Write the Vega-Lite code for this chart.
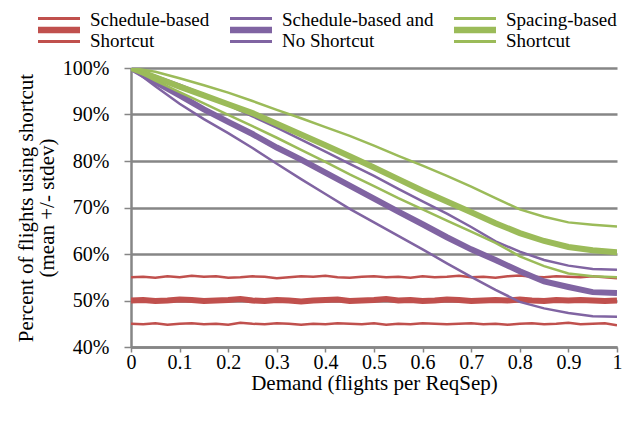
{
  "$schema": "https://vega.github.io/schema/vega-lite/v6.json",
  "width": 486,
  "height": 279,
  "autosize": {"type": "none"},
  "padding": {"left": 131, "top": 68, "right": 14, "bottom": 75},
  "background": "white",
  "config": {
    "view": {"stroke": null},
    "axisX": {"labelFont": "Liberation Serif", "titleFont": "Liberation Serif"},
    "axisY": {"labelFont": "Liberation Serif", "titleFont": "Liberation Serif"},
    "axis": {"labelColor": "#000000", "titleColor": "#000000", "titleFontWeight": "normal", "labelFontSize": 20, "titleFontSize": 21},
    "legend": {"labelFont": "Liberation Serif", "labelColor": "#000000", "labelFontSize": 19}
  },
  "datasets": {
    "curves": [
      {"demand": 0, "pct": 100.0, "series": "Schedule-based and No Shortcut", "stat": "mean"},
      {"demand": 0.05, "pct": 97.0, "series": "Schedule-based and No Shortcut", "stat": "mean"},
      {"demand": 0.1, "pct": 94.1, "series": "Schedule-based and No Shortcut", "stat": "mean"},
      {"demand": 0.15, "pct": 91.1, "series": "Schedule-based and No Shortcut", "stat": "mean"},
      {"demand": 0.2, "pct": 88.4, "series": "Schedule-based and No Shortcut", "stat": "mean"},
      {"demand": 0.25, "pct": 85.8, "series": "Schedule-based and No Shortcut", "stat": "mean"},
      {"demand": 0.3, "pct": 82.9, "series": "Schedule-based and No Shortcut", "stat": "mean"},
      {"demand": 0.35, "pct": 80.3, "series": "Schedule-based and No Shortcut", "stat": "mean"},
      {"demand": 0.4, "pct": 77.5, "series": "Schedule-based and No Shortcut", "stat": "mean"},
      {"demand": 0.45, "pct": 74.7, "series": "Schedule-based and No Shortcut", "stat": "mean"},
      {"demand": 0.5, "pct": 71.9, "series": "Schedule-based and No Shortcut", "stat": "mean"},
      {"demand": 0.55, "pct": 69.1, "series": "Schedule-based and No Shortcut", "stat": "mean"},
      {"demand": 0.6, "pct": 66.4, "series": "Schedule-based and No Shortcut", "stat": "mean"},
      {"demand": 0.65, "pct": 63.6, "series": "Schedule-based and No Shortcut", "stat": "mean"},
      {"demand": 0.7, "pct": 61.0, "series": "Schedule-based and No Shortcut", "stat": "mean"},
      {"demand": 0.75, "pct": 58.7, "series": "Schedule-based and No Shortcut", "stat": "mean"},
      {"demand": 0.8, "pct": 56.3, "series": "Schedule-based and No Shortcut", "stat": "mean"},
      {"demand": 0.85, "pct": 54.1, "series": "Schedule-based and No Shortcut", "stat": "mean"},
      {"demand": 0.9, "pct": 52.9, "series": "Schedule-based and No Shortcut", "stat": "mean"},
      {"demand": 0.95, "pct": 51.8, "series": "Schedule-based and No Shortcut", "stat": "mean"},
      {"demand": 1.0, "pct": 51.6, "series": "Schedule-based and No Shortcut", "stat": "mean"},
      {"demand": 0, "pct": 100.0, "series": "Schedule-based and No Shortcut", "stat": "upper"},
      {"demand": 0.05, "pct": 98.3, "series": "Schedule-based and No Shortcut", "stat": "upper"},
      {"demand": 0.1, "pct": 96.4, "series": "Schedule-based and No Shortcut", "stat": "upper"},
      {"demand": 0.15, "pct": 94.3, "series": "Schedule-based and No Shortcut", "stat": "upper"},
      {"demand": 0.2, "pct": 92.0, "series": "Schedule-based and No Shortcut", "stat": "upper"},
      {"demand": 0.25, "pct": 89.6, "series": "Schedule-based and No Shortcut", "stat": "upper"},
      {"demand": 0.3, "pct": 87.2, "series": "Schedule-based and No Shortcut", "stat": "upper"},
      {"demand": 0.35, "pct": 84.6, "series": "Schedule-based and No Shortcut", "stat": "upper"},
      {"demand": 0.4, "pct": 82.0, "series": "Schedule-based and No Shortcut", "stat": "upper"},
      {"demand": 0.45, "pct": 79.4, "series": "Schedule-based and No Shortcut", "stat": "upper"},
      {"demand": 0.5, "pct": 76.8, "series": "Schedule-based and No Shortcut", "stat": "upper"},
      {"demand": 0.55, "pct": 74.0, "series": "Schedule-based and No Shortcut", "stat": "upper"},
      {"demand": 0.6, "pct": 71.3, "series": "Schedule-based and No Shortcut", "stat": "upper"},
      {"demand": 0.65, "pct": 68.7, "series": "Schedule-based and No Shortcut", "stat": "upper"},
      {"demand": 0.7, "pct": 65.8, "series": "Schedule-based and No Shortcut", "stat": "upper"},
      {"demand": 0.75, "pct": 62.7, "series": "Schedule-based and No Shortcut", "stat": "upper"},
      {"demand": 0.8, "pct": 60.5, "series": "Schedule-based and No Shortcut", "stat": "upper"},
      {"demand": 0.85, "pct": 58.7, "series": "Schedule-based and No Shortcut", "stat": "upper"},
      {"demand": 0.9, "pct": 57.5, "series": "Schedule-based and No Shortcut", "stat": "upper"},
      {"demand": 0.95, "pct": 56.8, "series": "Schedule-based and No Shortcut", "stat": "upper"},
      {"demand": 1.0, "pct": 56.6, "series": "Schedule-based and No Shortcut", "stat": "upper"},
      {"demand": 0, "pct": 100.0, "series": "Schedule-based and No Shortcut", "stat": "lower"},
      {"demand": 0.05, "pct": 96.1, "series": "Schedule-based and No Shortcut", "stat": "lower"},
      {"demand": 0.1, "pct": 92.3, "series": "Schedule-based and No Shortcut", "stat": "lower"},
      {"demand": 0.15, "pct": 89.0, "series": "Schedule-based and No Shortcut", "stat": "lower"},
      {"demand": 0.2, "pct": 86.0, "series": "Schedule-based and No Shortcut", "stat": "lower"},
      {"demand": 0.25, "pct": 82.8, "series": "Schedule-based and No Shortcut", "stat": "lower"},
      {"demand": 0.3, "pct": 79.4, "series": "Schedule-based and No Shortcut", "stat": "lower"},
      {"demand": 0.35, "pct": 76.1, "series": "Schedule-based and No Shortcut", "stat": "lower"},
      {"demand": 0.4, "pct": 72.9, "series": "Schedule-based and No Shortcut", "stat": "lower"},
      {"demand": 0.45, "pct": 69.7, "series": "Schedule-based and No Shortcut", "stat": "lower"},
      {"demand": 0.5, "pct": 66.8, "series": "Schedule-based and No Shortcut", "stat": "lower"},
      {"demand": 0.55, "pct": 63.9, "series": "Schedule-based and No Shortcut", "stat": "lower"},
      {"demand": 0.6, "pct": 61.0, "series": "Schedule-based and No Shortcut", "stat": "lower"},
      {"demand": 0.65, "pct": 58.0, "series": "Schedule-based and No Shortcut", "stat": "lower"},
      {"demand": 0.7, "pct": 55.1, "series": "Schedule-based and No Shortcut", "stat": "lower"},
      {"demand": 0.75, "pct": 52.3, "series": "Schedule-based and No Shortcut", "stat": "lower"},
      {"demand": 0.8, "pct": 49.7, "series": "Schedule-based and No Shortcut", "stat": "lower"},
      {"demand": 0.85, "pct": 48.3, "series": "Schedule-based and No Shortcut", "stat": "lower"},
      {"demand": 0.9, "pct": 47.3, "series": "Schedule-based and No Shortcut", "stat": "lower"},
      {"demand": 0.95, "pct": 46.6, "series": "Schedule-based and No Shortcut", "stat": "lower"},
      {"demand": 1.0, "pct": 46.5, "series": "Schedule-based and No Shortcut", "stat": "lower"},
      {"demand": 0, "pct": 100.0, "series": "Spacing-based Shortcut", "stat": "mean"},
      {"demand": 0.05, "pct": 98.0, "series": "Spacing-based Shortcut", "stat": "mean"},
      {"demand": 0.1, "pct": 96.0, "series": "Spacing-based Shortcut", "stat": "mean"},
      {"demand": 0.15, "pct": 94.1, "series": "Spacing-based Shortcut", "stat": "mean"},
      {"demand": 0.2, "pct": 92.2, "series": "Spacing-based Shortcut", "stat": "mean"},
      {"demand": 0.25, "pct": 90.3, "series": "Spacing-based Shortcut", "stat": "mean"},
      {"demand": 0.3, "pct": 88.0, "series": "Spacing-based Shortcut", "stat": "mean"},
      {"demand": 0.35, "pct": 85.7, "series": "Spacing-based Shortcut", "stat": "mean"},
      {"demand": 0.4, "pct": 83.4, "series": "Spacing-based Shortcut", "stat": "mean"},
      {"demand": 0.45, "pct": 81.0, "series": "Spacing-based Shortcut", "stat": "mean"},
      {"demand": 0.5, "pct": 78.6, "series": "Spacing-based Shortcut", "stat": "mean"},
      {"demand": 0.55, "pct": 76.1, "series": "Spacing-based Shortcut", "stat": "mean"},
      {"demand": 0.6, "pct": 73.6, "series": "Spacing-based Shortcut", "stat": "mean"},
      {"demand": 0.65, "pct": 71.3, "series": "Spacing-based Shortcut", "stat": "mean"},
      {"demand": 0.7, "pct": 69.0, "series": "Spacing-based Shortcut", "stat": "mean"},
      {"demand": 0.75, "pct": 66.6, "series": "Spacing-based Shortcut", "stat": "mean"},
      {"demand": 0.8, "pct": 64.5, "series": "Spacing-based Shortcut", "stat": "mean"},
      {"demand": 0.85, "pct": 62.8, "series": "Spacing-based Shortcut", "stat": "mean"},
      {"demand": 0.9, "pct": 61.5, "series": "Spacing-based Shortcut", "stat": "mean"},
      {"demand": 0.95, "pct": 60.8, "series": "Spacing-based Shortcut", "stat": "mean"},
      {"demand": 1.0, "pct": 60.4, "series": "Spacing-based Shortcut", "stat": "mean"},
      {"demand": 0, "pct": 100.0, "series": "Spacing-based Shortcut", "stat": "upper"},
      {"demand": 0.05, "pct": 99.2, "series": "Spacing-based Shortcut", "stat": "upper"},
      {"demand": 0.1, "pct": 97.8, "series": "Spacing-based Shortcut", "stat": "upper"},
      {"demand": 0.15, "pct": 96.3, "series": "Spacing-based Shortcut", "stat": "upper"},
      {"demand": 0.2, "pct": 94.7, "series": "Spacing-based Shortcut", "stat": "upper"},
      {"demand": 0.25, "pct": 92.9, "series": "Spacing-based Shortcut", "stat": "upper"},
      {"demand": 0.3, "pct": 91.0, "series": "Spacing-based Shortcut", "stat": "upper"},
      {"demand": 0.35, "pct": 89.2, "series": "Spacing-based Shortcut", "stat": "upper"},
      {"demand": 0.4, "pct": 87.3, "series": "Spacing-based Shortcut", "stat": "upper"},
      {"demand": 0.45, "pct": 85.4, "series": "Spacing-based Shortcut", "stat": "upper"},
      {"demand": 0.5, "pct": 83.3, "series": "Spacing-based Shortcut", "stat": "upper"},
      {"demand": 0.55, "pct": 81.1, "series": "Spacing-based Shortcut", "stat": "upper"},
      {"demand": 0.6, "pct": 79.0, "series": "Spacing-based Shortcut", "stat": "upper"},
      {"demand": 0.65, "pct": 76.8, "series": "Spacing-based Shortcut", "stat": "upper"},
      {"demand": 0.7, "pct": 74.5, "series": "Spacing-based Shortcut", "stat": "upper"},
      {"demand": 0.75, "pct": 72.0, "series": "Spacing-based Shortcut", "stat": "upper"},
      {"demand": 0.8, "pct": 69.6, "series": "Spacing-based Shortcut", "stat": "upper"},
      {"demand": 0.85, "pct": 68.0, "series": "Spacing-based Shortcut", "stat": "upper"},
      {"demand": 0.9, "pct": 66.8, "series": "Spacing-based Shortcut", "stat": "upper"},
      {"demand": 0.95, "pct": 66.3, "series": "Spacing-based Shortcut", "stat": "upper"},
      {"demand": 1.0, "pct": 65.9, "series": "Spacing-based Shortcut", "stat": "upper"},
      {"demand": 0, "pct": 100.0, "series": "Spacing-based Shortcut", "stat": "lower"},
      {"demand": 0.05, "pct": 97.3, "series": "Spacing-based Shortcut", "stat": "lower"},
      {"demand": 0.1, "pct": 94.8, "series": "Spacing-based Shortcut", "stat": "lower"},
      {"demand": 0.15, "pct": 92.4, "series": "Spacing-based Shortcut", "stat": "lower"},
      {"demand": 0.2, "pct": 89.9, "series": "Spacing-based Shortcut", "stat": "lower"},
      {"demand": 0.25, "pct": 87.5, "series": "Spacing-based Shortcut", "stat": "lower"},
      {"demand": 0.3, "pct": 85.0, "series": "Spacing-based Shortcut", "stat": "lower"},
      {"demand": 0.35, "pct": 82.4, "series": "Spacing-based Shortcut", "stat": "lower"},
      {"demand": 0.4, "pct": 79.8, "series": "Spacing-based Shortcut", "stat": "lower"},
      {"demand": 0.45, "pct": 77.1, "series": "Spacing-based Shortcut", "stat": "lower"},
      {"demand": 0.5, "pct": 74.6, "series": "Spacing-based Shortcut", "stat": "lower"},
      {"demand": 0.55, "pct": 72.0, "series": "Spacing-based Shortcut", "stat": "lower"},
      {"demand": 0.6, "pct": 69.6, "series": "Spacing-based Shortcut", "stat": "lower"},
      {"demand": 0.65, "pct": 67.2, "series": "Spacing-based Shortcut", "stat": "lower"},
      {"demand": 0.7, "pct": 64.8, "series": "Spacing-based Shortcut", "stat": "lower"},
      {"demand": 0.75, "pct": 62.4, "series": "Spacing-based Shortcut", "stat": "lower"},
      {"demand": 0.8, "pct": 59.5, "series": "Spacing-based Shortcut", "stat": "lower"},
      {"demand": 0.85, "pct": 57.4, "series": "Spacing-based Shortcut", "stat": "lower"},
      {"demand": 0.9, "pct": 55.8, "series": "Spacing-based Shortcut", "stat": "lower"},
      {"demand": 0.95, "pct": 55.2, "series": "Spacing-based Shortcut", "stat": "lower"},
      {"demand": 1.0, "pct": 55.0, "series": "Spacing-based Shortcut", "stat": "lower"}
    ],
    "flat": [
      {"demand": 0, "upper": 55.0, "mean": 50.0, "lower": 45.0},
      {"demand": 0.025, "upper": 55.1, "mean": 50.1, "lower": 44.9},
      {"demand": 0.05, "upper": 54.9, "mean": 49.9, "lower": 45.1},
      {"demand": 0.075, "upper": 55.2, "mean": 50.0, "lower": 44.8},
      {"demand": 0.1, "upper": 55.0, "mean": 50.2, "lower": 45.0},
      {"demand": 0.125, "upper": 55.3, "mean": 50.1, "lower": 45.1},
      {"demand": 0.15, "upper": 55.1, "mean": 49.9, "lower": 44.9},
      {"demand": 0.175, "upper": 55.2, "mean": 50.0, "lower": 45.0},
      {"demand": 0.2, "upper": 54.9, "mean": 50.1, "lower": 44.8},
      {"demand": 0.225, "upper": 55.0, "mean": 50.3, "lower": 45.2},
      {"demand": 0.25, "upper": 55.2, "mean": 50.0, "lower": 45.0},
      {"demand": 0.275, "upper": 55.1, "mean": 49.9, "lower": 44.9},
      {"demand": 0.3, "upper": 54.8, "mean": 50.1, "lower": 45.1},
      {"demand": 0.325, "upper": 55.0, "mean": 50.0, "lower": 45.0},
      {"demand": 0.35, "upper": 55.2, "mean": 49.8, "lower": 44.8},
      {"demand": 0.375, "upper": 55.1, "mean": 50.0, "lower": 45.0},
      {"demand": 0.4, "upper": 55.3, "mean": 50.1, "lower": 44.9},
      {"demand": 0.425, "upper": 55.0, "mean": 50.2, "lower": 45.1},
      {"demand": 0.45, "upper": 54.9, "mean": 49.9, "lower": 45.0},
      {"demand": 0.475, "upper": 55.1, "mean": 50.0, "lower": 44.9},
      {"demand": 0.5, "upper": 55.2, "mean": 50.1, "lower": 45.1},
      {"demand": 0.525, "upper": 55.0, "mean": 50.3, "lower": 44.8},
      {"demand": 0.55, "upper": 55.1, "mean": 50.0, "lower": 45.0},
      {"demand": 0.575, "upper": 54.9, "mean": 50.1, "lower": 44.9},
      {"demand": 0.6, "upper": 55.2, "mean": 49.9, "lower": 45.1},
      {"demand": 0.625, "upper": 55.0, "mean": 50.0, "lower": 45.0},
      {"demand": 0.65, "upper": 55.1, "mean": 50.2, "lower": 44.9},
      {"demand": 0.675, "upper": 55.3, "mean": 50.1, "lower": 45.0},
      {"demand": 0.7, "upper": 55.0, "mean": 49.9, "lower": 45.1},
      {"demand": 0.725, "upper": 55.1, "mean": 50.0, "lower": 44.9},
      {"demand": 0.75, "upper": 54.9, "mean": 50.1, "lower": 45.0},
      {"demand": 0.775, "upper": 55.2, "mean": 50.0, "lower": 44.8},
      {"demand": 0.8, "upper": 55.4, "mean": 50.2, "lower": 45.0},
      {"demand": 0.825, "upper": 55.1, "mean": 50.0, "lower": 45.1},
      {"demand": 0.85, "upper": 55.0, "mean": 49.9, "lower": 44.9},
      {"demand": 0.875, "upper": 55.2, "mean": 50.1, "lower": 45.0},
      {"demand": 0.9, "upper": 55.1, "mean": 50.0, "lower": 45.2},
      {"demand": 0.925, "upper": 55.0, "mean": 50.1, "lower": 44.9},
      {"demand": 0.95, "upper": 55.2, "mean": 50.0, "lower": 45.0},
      {"demand": 0.975, "upper": 55.0, "mean": 49.9, "lower": 45.1},
      {"demand": 1.0, "upper": 54.8, "mean": 50.0, "lower": 44.7}
    ]
  },
  "layer": [
    {
      "data": {"name": "flat"},
      "transform": [
        {"fold": ["upper", "mean", "lower"], "as": ["stat", "pct"]},
        {"calculate": "'Schedule-based Shortcut'", "as": "series"}
      ],
      "mark": {"type": "line", "clip": true},
      "encoding": {
        "x": {"field": "demand", "type": "quantitative"},
        "y": {"field": "pct", "type": "quantitative"},
        "color": {"field": "series", "type": "nominal"},
        "detail": {"field": "stat"},
        "strokeWidth": {"field": "stat", "type": "nominal", "scale": {"type": "ordinal", "domain": ["mean", "upper", "lower"], "range": [6, 2.5, 2.5]}, "legend": null}
      }
    },
    {
      "data": {"name": "curves"},
      "mark": {"type": "line", "clip": true},
      "encoding": {
        "x": {
          "field": "demand", "type": "quantitative",
          "scale": {"domain": [0, 1], "nice": false},
          "title": "Demand (flights per ReqSep)",
          "axis": {
            "values": [0, 0.05, 0.1, 0.15, 0.2, 0.25, 0.3, 0.35, 0.4, 0.45, 0.5, 0.55, 0.6, 0.65, 0.7, 0.75, 0.8, 0.85, 0.9, 0.95, 1],
            "labelExpr": "round(datum.value * 100) % 10 == 0 ? format(datum.value, '~g') : ''",
            "grid": false,
            "domainColor": "#868686", "domainWidth": 2.5,
            "tickColor": "#868686", "tickWidth": 1.5, "tickSize": 5,
            "labelPadding": 0, "labelFlush": false, "labelOverlap": false,
            "titlePadding": 0
          }
        },
        "y": {
          "field": "pct", "type": "quantitative",
          "scale": {"domain": [40, 100], "nice": false, "zero": false},
          "title": ["Percent of flights using shortcut", "(mean +/- stdev)"],
          "axis": {
            "values": [40, 50, 60, 70, 80, 90, 100],
            "labelExpr": "datum.value + '%'",
            "grid": true, "gridColor": "#868686", "gridWidth": 2.5,
            "domainColor": "#868686", "domainWidth": 2.5,
            "tickColor": "#868686", "tickWidth": 1.5, "tickSize": 7,
            "labelPadding": 15,
            "titleLineHeight": 21, "titlePadding": 5
          }
        },
        "color": {
          "field": "series", "type": "nominal",
          "scale": {
            "domain": ["Schedule-based Shortcut", "Schedule-based and No Shortcut", "Spacing-based Shortcut"],
            "range": ["#C0504D", "#8064A2", "#9BBB59"]
          },
          "legend": {
            "title": null,
            "orient": "none",
            "legendX": -93,
            "legendY": -59,
            "direction": "horizontal",
            "columns": 3,
            "columnPadding": 20,
            "padding": 0,
            "symbolType": "M-1,-0.62H1V-0.48H-1Z M-1,-0.16H1V0.16H-1Z M-1,0.48H1V0.62H-1Z",
            "symbolSize": 1764,
            "symbolStrokeWidth": 0,
            "labelOffset": 10,
            "labelLimit": 300,
            "labelExpr": "datum.label == 'Schedule-based Shortcut' ? ['Schedule-based', 'Shortcut'] : datum.label == 'Schedule-based and No Shortcut' ? ['Schedule-based and', 'No Shortcut'] : ['Spacing-based', 'Shortcut']",
            "encode": {
              "symbols": {"update": {"fill": {"scale": "color", "field": "value"}, "stroke": {"value": "transparent"}, "opacity": {"value": 1}}},
              "labels": {"update": {"lineHeight": {"value": 21}, "dy": {"value": -10}}}
            }
          }
        },
        "detail": {"field": "stat"},
        "strokeWidth": {"field": "stat", "type": "nominal", "scale": {"type": "ordinal", "domain": ["mean", "upper", "lower"], "range": [6, 2.5, 2.5]}, "legend": null}
      }
    }
  ]
}
